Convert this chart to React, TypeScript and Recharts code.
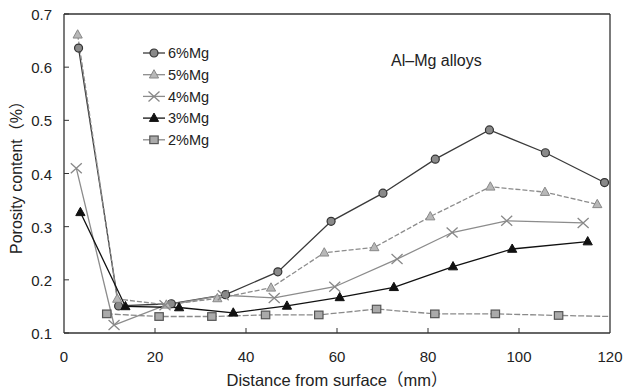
import { Line, LineChart, ReferenceLine, XAxis, YAxis } from "recharts";

// distance from surface (mm) and porosity (%) for each alloy
const dist6 = [3.2, 12, 23.6, 35.5, 47, 58.7, 70.1, 81.6, 93.5, 105.8, 118.8];
const por6 = [0.636, 0.151, 0.155, 0.172, 0.215, 0.31, 0.363, 0.427, 0.482, 0.439, 0.383];

const dist5 = [3, 11.7, 22.5, 33.7, 45.5, 57.2, 68.2, 80.5, 93.7, 105.7, 117.2];
const por5 = [0.661, 0.164, 0.153, 0.165, 0.185, 0.251, 0.261, 0.319, 0.375, 0.365, 0.342];

const dist4 = [2.7, 11, 22.2, 35, 46.2, 59.5, 73.2, 85.3, 97.3, 114.1];
const por4 = [0.41, 0.115, 0.152, 0.171, 0.166, 0.187, 0.239, 0.289, 0.311, 0.307];

const dist3 = [3.6, 13.5, 25.3, 37.2, 49, 60.6, 72.5, 85.5, 98.5, 115.1];
const por3 = [0.327, 0.15, 0.148, 0.138, 0.151, 0.167, 0.186, 0.225, 0.258, 0.272];

const dist2 = [9.4, 20.9, 32.5, 44.3, 56, 68.7, 81.5, 94.8, 108.7, 121];
const por2 = [0.136, 0.131, 0.131, 0.134, 0.134, 0.145, 0.136, 0.136, 0.133, 0.131];

const xTicks = [0, 20, 40, 60, 80, 100, 120];
const yTicks = [0.1, 0.2, 0.3, 0.4, 0.5, 0.6, 0.7];

const FONT = "'Liberation Sans', 'Noto Sans CJK JP', sans-serif";
const AXIS = "#333";

type Shape = "circle" | "triangle" | "cross" | "square";

interface SeriesDef {
  name: string;
  dist: number[];
  por: number[];
  shape: Shape;
  line: string;
  fill: string;
  stroke: string;
  dash?: string;
}

const series: SeriesDef[] = [
  { name: "6%Mg", dist: dist6, por: por6, shape: "circle", line: "#3a3a3a", fill: "#8a8a8a", stroke: "#333" },
  { name: "5%Mg", dist: dist5, por: por5, shape: "triangle", line: "#8c8c8c", fill: "#b8b8b8", stroke: "#888", dash: "5 2" },
  { name: "4%Mg", dist: dist4, por: por4, shape: "cross", line: "#8c8c8c", fill: "none", stroke: "#888" },
  { name: "3%Mg", dist: dist3, por: por3, shape: "triangle", line: "#111", fill: "#111", stroke: "#111" },
  { name: "2%Mg", dist: dist2, por: por2, shape: "square", line: "#8a8a8a", fill: "#aaa", stroke: "#555", dash: "6 2" },
];

function Marker({ cx, cy, s }: { cx: number; cy: number; s: SeriesDef }) {
  switch (s.shape) {
    case "circle":
      return <circle cx={cx} cy={cy} r={4} fill={s.fill} stroke={s.stroke} strokeWidth={1.2} />;
    case "triangle":
      return (
        <polygon
          points={`${cx},${cy - 5} ${cx - 4.6},${cy + 3.3} ${cx + 4.6},${cy + 3.3}`}
          fill={s.fill}
          stroke={s.stroke}
          strokeWidth={1}
        />
      );
    case "cross":
      return (
        <path
          d={`M${cx - 5.5},${cy - 5} L${cx + 5.5},${cy + 5} M${cx - 5.5},${cy + 5} L${cx + 5.5},${cy - 5}`}
          stroke={s.stroke}
          strokeWidth={1.3}
        />
      );
    default:
      return (
        <rect x={cx - 4.2} y={cy - 3.8} width={8.4} height={7.6} fill={s.fill} stroke={s.stroke} strokeWidth={1.2} />
      );
  }
}

function makeDot(s: SeriesDef) {
  return (props: any) => {
    const { cx, cy, payload, index } = props;
    if (cx == null || cy == null || payload.x > 120) return <g key={index} />;
    return <Marker key={index} cx={cx} cy={cy} s={s} />;
  };
}

function YTick({ x, y, payload }: any) {
  return (
    <g>
      <line x1={x + 12} x2={x + 17} y1={y} y2={y} stroke={AXIS} />
      <text x={x} y={y + 6} textAnchor="end" fontSize={15} fontFamily={FONT} fill="#222">
        {payload.value.toFixed(1)}
      </text>
    </g>
  );
}

function XTick({ x, y, payload }: any) {
  const inner = payload.value > 0 && payload.value < 120;
  return (
    <g>
      {inner && <line x1={x} x2={x} y1={y} y2={y - 5} stroke={AXIS} />}
      <text x={x} y={y + 29} textAnchor="middle" fontSize={15} fontFamily={FONT} fill="#222">
        {payload.value}
      </text>
    </g>
  );
}

// legend drawn on top of the plot area, upper left
function LegendBox() {
  return (
    <svg
      width={110}
      height={112}
      style={{ position: "absolute", left: 141, top: 42, display: "block" }}
    >
      {series.map((s, i) => {
        const y = 11 + i * 21.7;
        return (
          <g key={s.name}>
            <line x1={2} x2={24} y1={y} y2={y} stroke={s.line} strokeWidth={1.3} />
            <Marker cx={13} cy={y} s={s} />
            <text x={27} y={y + 5.2} fontSize={14.5} fontFamily={FONT} fill="#222">
              {s.name}
            </text>
          </g>
        );
      })}
    </svg>
  );
}

export default function App() {
  return (
    <div style={{ position: "absolute", left: 0, top: 0, width: 624, height: 392, background: "#fff" }}>
      <LineChart width={624} height={392} margin={{ top: 14, right: 14, left: 4, bottom: 29 }}>
        <XAxis
          type="number"
          dataKey="x"
          domain={[0, 120]}
          ticks={xTicks}
          allowDataOverflow
          stroke={AXIS}
          strokeWidth={1.3}
          tickSize={0}
          tickMargin={0}
          tick={<XTick />}
          height={30}
          label={{
            value: "Distance from surface（mm）",
            position: "insideBottom",
            offset: -23,
            fontSize: 16.5,
            fontFamily: FONT,
            fill: "#222",
          }}
        />
        <YAxis
          type="number"
          dataKey="y"
          domain={[0.1, 0.7]}
          ticks={yTicks}
          allowDataOverflow
          stroke={AXIS}
          strokeWidth={1.3}
          tickSize={0}
          tickMargin={12}
          tick={<YTick />}
          width={60}
          label={{
            value: "Porosity content（%）",
            angle: -90,
            position: "insideLeft",
            offset: 0,
            dx: 12,
            fontSize: 16,
            fontFamily: FONT,
            fill: "#222",
            style: { textAnchor: "middle" },
          }}
        />
        <ReferenceLine y={0.7} stroke={AXIS} strokeWidth={1.3} />
        <ReferenceLine x={120} stroke={AXIS} strokeWidth={1.3} />
        <ReferenceLine
          y={0.612}
          stroke="none"
          label={{ value: "Al–Mg alloys", position: "insideLeft", dx: 322, fontSize: 16, fontFamily: FONT, fill: "#222" }}
        />
        {series.map((s) => (
          <Line
            key={s.name}
            name={s.name}
            data={s.dist.map((d, i) => ({ x: d, y: s.por[i] }))}
            dataKey="y"
            stroke={s.line}
            strokeWidth={1.3}
            strokeDasharray={s.dash}
            dot={makeDot(s)}
            activeDot={false}
            isAnimationActive={false}
          />
        ))}
      </LineChart>
      <LegendBox />
    </div>
  );
}
